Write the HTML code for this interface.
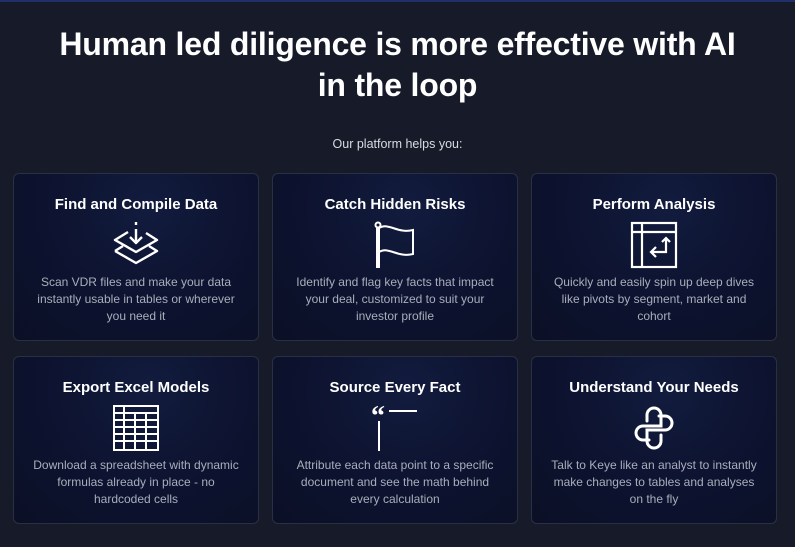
<!DOCTYPE html>
<html><head><meta charset="utf-8"><style>
*{margin:0;padding:0;box-sizing:border-box}
body{width:795px;height:547px;background:#171b29;font-family:"Liberation Sans",sans-serif;position:relative;overflow:hidden}
.topbar{position:absolute;left:0;top:0;width:795px;height:2px;background:#1f2f6a}
h1{position:absolute;left:0;top:24px;width:795px;text-align:center;color:#fff;font-size:32px;font-weight:bold;line-height:41px;letter-spacing:-0.2px}
.sub{position:absolute;left:0;top:137px;width:795px;text-align:center;color:#d8dbe3;font-size:12.5px}
.card{position:absolute;width:246px;height:168px;border:1px solid #2a3044;border-radius:6px;background:radial-gradient(ellipse at 55% 20%,#121c3e 0%,#0d1330 50%,#0b1026 100%);text-align:center}
.card h2{position:absolute;top:22px;left:0;width:100%;color:#fff;font-size:15px;font-weight:bold}
.card svg{position:absolute;left:50%;top:47px;margin-left:-24px}
.card p{position:absolute;top:100px;left:0;right:0;color:#a9aebb;font-size:12px;line-height:17px;white-space:nowrap}
</style></head><body>
<div class="topbar"></div>
<h1>Human led diligence is more effective with AI<br>in the loop</h1>
<div class="sub">Our platform helps you:</div>

<div class="card" style="left:13px;top:173px"><h2>Find and Compile Data</h2>
<svg width="48" height="48" viewBox="0 0 48 48" fill="none" stroke="#fff" stroke-width="2.4" stroke-linejoin="round"><path d="M24 1v3M24 8v14M18 16l6 6 6-6"/><path d="M16 11L3 19l21 12 21-12-11-7"/><path d="M3 30l21 12 21-12-8-5M11 25l-8 5"/></svg>
<p>Scan VDR files and make your data<br>instantly usable in tables or wherever<br>you need it</p></div>

<div class="card" style="left:272px;top:173px"><h2>Catch Hidden Risks</h2>
<svg width="48" height="48" viewBox="0 0 48 48" fill="none" stroke="#fff" stroke-width="2"><circle cx="7" cy="4" r="2.5"/><path d="M6 7v40M8 7v40"/><path d="M8 7c10-6 18 6 34 2v24c-16 4-24-8-34-2"/></svg>
<p>Identify and flag key facts that impact<br>your deal, customized to suit your<br>investor profile</p></div>

<div class="card" style="left:531px;top:173px"><h2>Perform Analysis</h2>
<svg width="48" height="48" viewBox="0 0 48 48" fill="none" stroke="#fff" stroke-width="2.2"><rect x="2" y="2" width="44" height="44"/><path d="M2 11h44M12 2v44M36 18v13H22M26 26l-5 5 5 5M32 21l4-4 4 4"/></svg>
<p>Quickly and easily spin up deep dives<br>like pivots by segment, market and<br>cohort</p></div>

<div class="card" style="left:13px;top:356px"><h2>Export Excel Models</h2>
<svg width="48" height="48" viewBox="0 0 48 48" fill="none" stroke="#fff" stroke-width="2"><rect x="2" y="2" width="44" height="44"/><path d="M2 9h44M2 16h44M2 23h44M2 30h44M2 37h44M12 2v44M23 9v37M34 9v37"/></svg>
<p>Download a spreadsheet with dynamic<br>formulas already in place - no<br>hardcoded cells</p></div>

<div class="card" style="left:272px;top:356px"><h2>Source Every Fact</h2>
<svg width="48" height="48" viewBox="0 0 48 48" fill="none" stroke="#fff" stroke-width="2"><text x="0" y="21" fill="#fff" stroke="none" font-size="28" font-family="Liberation Serif,serif" font-weight="bold">“</text><path d="M18 7h28M8 17v30"/></svg>
<p>Attribute each data point to a specific<br>document and see the math behind<br>every calculation</p></div>

<div class="card" style="left:531px;top:356px"><h2>Understand Your Needs</h2>
<svg width="48" height="48" viewBox="0 0 48 48" fill="none" stroke="#fff" stroke-width="3" stroke-linecap="round"><path d="M17 17v-6a7 7 0 0 1 14 0v11H13a7 7 0 0 0 0 14h6"/><path d="M31 31v6a7 7 0 0 1-14 0V26h18a7 7 0 0 0 0-14h-6"/></svg>
<p>Talk to Keye like an analyst to instantly<br>make changes to tables and analyses<br>on the fly</p></div>
</body></html>
